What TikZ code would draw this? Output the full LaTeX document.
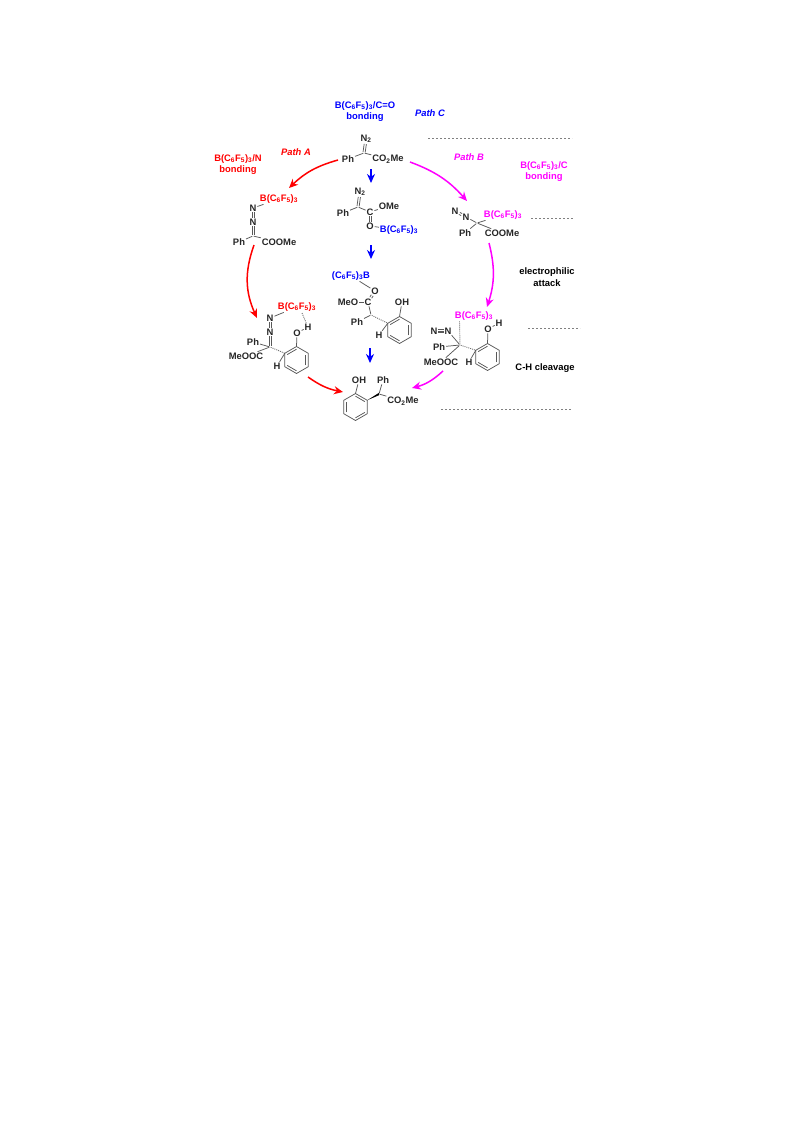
\documentclass[tikz,border=0pt]{standalone}
\usepackage{fontspec}
\setmainfont{Liberation Sans}
\usetikzlibrary{calc, arrows.meta}

\definecolor{pathAcol}{RGB}{255,0,0}
\definecolor{pathBcol}{RGB}{255,0,255}
\definecolor{pathCcol}{RGB}{0,0,255}

\newcommand*{\bcf}{B(C\textsubscript{6}F\textsubscript{5})\textsubscript{3}}
\newcommand*{\benzring}[4]{%
  \foreach \a in {30,90,...,330} {\path (#2,#3) ++(\a:13.5) coordinate (#1\a);}
  \coordinate (#1c) at (#2,#3);
  \draw[bond, line join=round] (#130) -- (#190) -- (#1150) -- (#1210) -- (#1270) -- (#1330) -- cycle;
  \foreach \a/\b in {#4} {\draw[bond] ($(#1\a)!.2!(#1c)$) -- ($(#1\b)!.2!(#1c)$);}
}
\newcommand*{\dblbond}[3][1.1pt]{%
  \path (#2) -- (#3) coordinate[pos=0] (dbA) coordinate[pos=1] (dbB);
  \draw[bond] ($(dbA)!#1!90:(dbB)$) -- ($(dbB)!#1!-90:(dbA)$);
  \draw[bond] ($(dbA)!#1!-90:(dbB)$) -- ($(dbB)!#1!90:(dbA)$);
}

\tikzset{
  atom/.style={inner sep=0.8pt, font=\fontsize{9.4}{11}\selectfont\bfseries, text=black!85},
  lbl/.style={inner sep=0pt, align=center, font=\fontsize{9.4}{11.8}\selectfont\bfseries},
  bond/.style={line width=0.75pt, draw=black!65},
  hbond/.style={line width=0.9pt, draw=black!55, dash pattern=on 1pt off 1pt},
  guide/.style={line width=0.6pt, draw=black!50, dash pattern=on 2pt off 2pt},
  patharrow/.style={line width=1.5pt, -{Stealth[length=9pt, width=8pt]}},
}

\begin{document}
\begin{tikzpicture}[x=1pt, y=-1pt]
\useasboundingbox (0,0) rectangle (793,1121);

% headings
\node (hdC) [lbl, pathCcol] at (365,111.5) {\bcf/C=O\\bonding};
\node (hdA) [lbl, pathAcol] at (238,164.5) {\bcf/N\\bonding};
\node (hdB) [lbl, pathBcol] at (544,171.5) {\bcf/C\\bonding};
\node (pathC) [lbl, pathCcol] at (430,113) {\textit{Path C}};
\node (pathA) [lbl, pathAcol] at (296,152) {\textit{Path A}};
\node (pathB) [lbl, pathBcol] at (469,157) {\textit{Path B}};
\node (elec) [lbl] at (547,277.5) {electrophilic\\attack};
\node (cleav) [lbl] at (545,368) {C-H cleavage};

% energy levels
\coordinate (g1a) at (428,138); \coordinate (g1b) at (572,138);
\coordinate (g2a) at (531,218); \coordinate (g2b) at (574,218);
\coordinate (g3a) at (528,328); \coordinate (g3b) at (580,328);
\coordinate (g4a) at (441,409); \coordinate (g4b) at (572,409);
\draw[guide] (g1a) -- (g1b);
\draw[guide] (g2a) -- (g2b);
\draw[guide] (g3a) -- (g3b);
\draw[guide] (g4a) -- (g4b);

% diazo ester
\node (S) [atom, inner sep=0pt] at (364,153) {};
\node (SN) [atom] at (366,139) {N\textsubscript{2}};
\node (SPh) [atom] at (348,159) {Ph};
\node (SE) [atom] at (388,159) {CO\textsubscript{2}Me};
\dblbond{S}{SN}
\draw[bond] (S) -- (SPh);
\draw[bond] (S) -- (SE);

% path C, first intermediate
\node (Ca) [atom, inner sep=0pt] at (358,207) {};
\node (CaN) [atom] at (360,192) {N\textsubscript{2}};
\node (CaPh) [atom] at (343,213) {Ph};
\node (CaC) [atom] at (370,212) {C};
\node (CaOM) [atom] at (389,206) {OMe};
\node (CaO) [atom] at (370,226) {O};
\node (CaB) [atom, text=pathCcol] at (399,230) {\bcf};
\dblbond{Ca}{CaN}
\draw[bond] (Ca) -- (CaPh);
\draw[bond] (Ca) -- (CaC);
\draw[bond] (CaC) -- (CaOM);
\dblbond{CaC}{CaO}
\draw[bond] (CaO) -- (CaB);

% path C, second intermediate
\node (Cb) [atom, inner sep=0pt] at (371,315) {};
\node (CbB) [atom, text=pathCcol] at (351,276) {(C\textsubscript{6}F\textsubscript{5})\textsubscript{3}B};
\node (CbO) [atom] at (375,291) {O};
\node (CbC) [atom] at (368,302) {C};
\node (CbMe) [atom] at (348,302) {MeO};
\node (CbPh) [atom] at (357,322) {Ph};
\node (CbH) [atom] at (379,335) {H};
\node (CbOH) [atom] at (402,302) {OH};
\benzring{rC}{399.5}{330}{30/330,90/150,210/270}
\draw[bond] (CbB) -- (CbO);
\dblbond{CbO}{CbC}
\draw[bond] (CbMe) -- (CbC);
\draw[bond] (CbC) -- (Cb);
\draw[bond] (Cb) -- (CbPh);
\draw[hbond] (Cb) -- (rC210);
\draw[bond] (rC210) -- (CbH);
\draw[bond] (rC270) -- (CbOH);

% path A, first intermediate
\node (Aa) [atom, inner sep=0pt] at (253,236) {};
\node (AaB) [atom, text=pathAcol] at (279,199) {\bcf};
\node (AaN) [atom] at (253,208) {N};
\node (AaM) [atom] at (253,222) {N};
\node (AaPh) [atom] at (239,242) {Ph};
\node (AaE) [atom] at (279,242) {COOMe};
\draw[bond] (AaN) -- (AaB);
\dblbond{AaN}{AaM}
\dblbond{AaM}{Aa}
\draw[bond] (Aa) -- (AaPh);
\draw[bond] (Aa) -- (AaE);

% path A, second intermediate
\node (Ab) [atom, inner sep=0pt] at (270,347) {};
\node (AbB) [atom, text=pathAcol] at (297,307) {\bcf};
\node (AbN) [atom] at (270,318) {N};
\node (AbM) [atom] at (270,332) {N};
\node (AbPh) [atom] at (253,342) {Ph};
\node (AbE) [atom] at (246,356) {MeOOC};
\node (AbH) [atom] at (277,366) {H};
\node (AbO) [atom] at (297,333) {O};
\node (AbOH) [atom] at (308,327) {H};
\benzring{rA}{296.5}{360}{30/330,90/150,210/270}
\coordinate (AbBd) at (302,313);
\draw[bond] (AbN) -- (AbB);
\dblbond{AbN}{AbM}
\dblbond{AbM}{Ab}
\draw[bond] (Ab) -- (AbPh);
\draw[bond] (Ab) -- (AbE);
\draw[hbond] (Ab) -- (rA210);
\draw[bond] (rA210) -- (AbH);
\draw[bond] (rA270) -- (AbO);
\draw[bond] (AbO) -- (AbOH);
\draw[hbond] (AbBd) -- (AbOH);

% path B, first intermediate
\node (Ba) [atom, inner sep=0pt] at (477,223) {};
\node (BaB) [atom, text=pathBcol] at (503,215) {\bcf};
\node (BaN) [atom] at (455,211) {N};
\node (BaM) [atom] at (466,217) {N};
\node (BaPh) [atom] at (465,233) {Ph};
\node (BaE) [atom] at (502,233) {COOMe};
\dblbond{BaN}{BaM}
\draw[bond] (BaM) -- (Ba);
\draw[bond] (Ba) -- (BaB);
\draw[bond] (Ba) -- (BaPh);
\draw[bond] (Ba) -- (BaE);

% path B, second intermediate
\node (Bb) [atom, inner sep=0pt] at (460,345) {};
\node (BbB) [atom, text=pathBcol] at (474,316) {\bcf};
\node (BbN) [atom] at (434,331) {N};
\node (BbM) [atom] at (448,331) {N};
\node (BbPh) [atom] at (439,347) {Ph};
\node (BbE) [atom] at (441,362) {MeOOC};
\node (BbH) [atom] at (469,362) {H};
\node (BbO) [atom] at (488,329) {O};
\node (BbOH) [atom] at (499,323) {H};
\benzring{rB}{487.5}{357}{30/330,90/150,210/270}
\coordinate (BbBd) at (459.5,321);
\dblbond[1.7pt]{BbN}{BbM}
\draw[bond] (BbN) -- (BbM);
\draw[bond] (BbM) -- (Bb);
\draw[hbond] (Bb) -- (BbBd);
\draw[bond] (Bb) -- (BbPh);
\draw[bond] (Bb) -- (BbE);
\draw[hbond] (Bb) -- (rB210);
\draw[bond] (rB210) -- (BbH);
\draw[bond] (rB270) -- (BbO);
\draw[bond] (BbO) -- (BbOH);

% product
\node (P) [atom, inner sep=0pt] at (379,394) {};
\node (POH) [atom] at (359,380) {OH};
\node (PPh) [atom] at (383,380) {Ph};
\node (PE) [atom] at (403,401) {CO\textsubscript{2}Me};
\benzring{rP}{355.5}{407}{150/210,30/90,270/330}
\draw[bond] (rP270) -- (POH);
\draw[bond] (P) -- (PPh);
\draw[bond] (P) -- (PE);
\fill[black] (rP330) -- ($(P)+(0,-1.2)$) -- ($(P)+(0,1.2)$) -- cycle;

% path arrows
\coordinate (mA1a) at (338,160); \coordinate (mA1b) at (289,188);
\coordinate (mA2a) at (254,245); \coordinate (mA2b) at (257,318);
\coordinate (mA3a) at (308,377); \coordinate (mA3b) at (343,392);
\coordinate (mB1a) at (410,162); \coordinate (mB1b) at (467,201);
\coordinate (mB2a) at (489,243); \coordinate (mB2b) at (487,307);
\coordinate (mB3a) at (443,371); \coordinate (mB3b) at (412,388);
\coordinate (mC1a) at (371,169); \coordinate (mC1b) at (371,183);
\coordinate (mC2a) at (371,245); \coordinate (mC2b) at (371,259);
\coordinate (mC3a) at (370,348); \coordinate (mC3b) at (370,363);
\draw[patharrow, pathAcol] (mA1a) to[bend right=14] (mA1b);
\draw[patharrow, pathAcol] (mA2a) to[bend right=22] (mA2b);
\draw[patharrow, pathAcol] (mA3a) to[bend right=12] (mA3b);
\draw[patharrow, pathBcol] (mB1a) to[bend left=14] (mB1b);
\draw[patharrow, pathBcol] (mB2a) to[bend left=16] (mB2b);
\draw[patharrow, pathBcol] (mB3a) to[bend left=14] (mB3b);
\draw[patharrow, pathCcol] (mC1a) -- (mC1b);
\draw[patharrow, pathCcol] (mC2a) -- (mC2b);
\draw[patharrow, pathCcol] (mC3a) -- (mC3b);
\end{tikzpicture}
\end{document}
